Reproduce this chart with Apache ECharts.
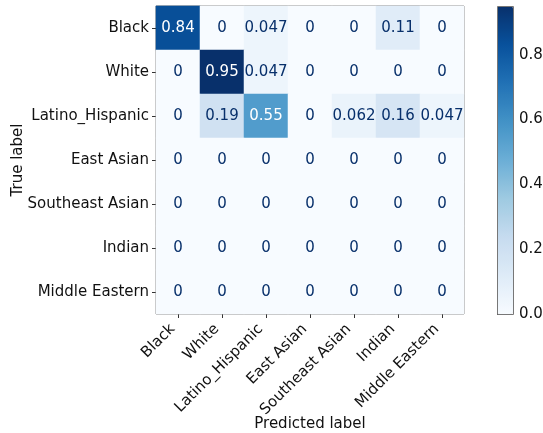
<!DOCTYPE html>
<html>
<head>
<meta charset="utf-8">
<script src="https://cdn.jsdelivr.net/npm/echarts@6/dist/echarts.min.js"></script>
<style>
  html, body { margin: 0; padding: 0; background: #fff; }
  #chart { width: 543px; height: 433px; }
</style>
</head>
<body>
<div id="chart"></div>
<script>
// Class labels (rows = true label, columns = predicted label)
const classes = ['Black', 'White', 'Latino_Hispanic', 'East Asian', 'Southeast Asian', 'Indian', 'Middle Eastern'];

// Row-normalised confusion matrix
const rowBlack      = [0.84, 0, 0.047, 0, 0, 0.11, 0];
const rowWhite      = [0, 0.95, 0.047, 0, 0, 0, 0];
const rowLatino     = [0, 0.19, 0.55, 0, 0.062, 0.16, 0.047];
const rowEastAsian  = [0, 0, 0, 0, 0, 0, 0];
const rowSEAsian    = [0, 0, 0, 0, 0, 0, 0];
const rowIndian     = [0, 0, 0, 0, 0, 0, 0];
const rowMidEastern = [0, 0, 0, 0, 0, 0, 0];

const colorbarTicks = [0, 0.2, 0.4, 0.6, 0.8];

// matplotlib "Blues" colormap
const blues = ['#f7fbff', '#deebf7', '#c6dbef', '#9ecae1', '#6baed6', '#4292c6', '#2171b5', '#08519c', '#08306b'];

const matrix = [rowBlack, rowWhite, rowLatino, rowEastAsian, rowSEAsian, rowIndian, rowMidEastern];
const cells = [];
let vmax = 0, vmin = Infinity;
matrix.forEach((row, r) => row.forEach((v, c) => {
  cells.push([c, r, v]);
  vmax = Math.max(vmax, v);
  vmin = Math.min(vmin, v);
}));
const threshold = (vmax + vmin) / 2;

const FONT = 'DejaVu Sans';
const FS = 15;
const frame = '#777';

const chart = echarts.init(document.getElementById('chart'), null, { renderer: 'canvas' });
chart.setOption({
  animation: false,
  backgroundColor: '#fff',
  textStyle: { fontFamily: FONT },
  grid: [
    { left: 156, top: 6, width: 308, height: 308, show: true, borderColor: frame, borderWidth: 1,
      backgroundColor: 'transparent', containLabel: false, outerBoundsMode: 'none' },
    { left: 497, top: 6, width: 16, height: 308, show: false, containLabel: false, outerBoundsMode: 'none' }
  ],
  xAxis: [
    {
      gridIndex: 0, type: 'category', data: classes, position: 'bottom',
      axisLine: { show: false },
      axisTick: { show: true, alignWithLabel: true, length: 4, lineStyle: { color: '#333' } },
      axisLabel: { rotate: 45, fontSize: FS, color: '#111', fontFamily: FONT, margin: 18,
                   align: 'right', verticalAlign: 'bottom', interval: 0 },
      splitLine: { show: false },
      name: 'Predicted label', nameLocation: 'middle', nameGap: 103, nameMoveOverlap: false,
      nameTextStyle: { fontSize: FS, color: '#111', fontFamily: FONT }
    },
    { gridIndex: 1, type: 'value', show: false, min: 0, max: 1 }
  ],
  yAxis: [
    {
      gridIndex: 0, type: 'category', data: classes, inverse: true,
      axisLine: { show: false },
      axisTick: { show: true, alignWithLabel: true, length: 4, lineStyle: { color: '#333' } },
      axisLabel: { fontSize: FS, color: '#111', fontFamily: FONT, margin: 7, interval: 0 },
      splitLine: { show: false },
      name: 'True label', nameLocation: 'middle', nameGap: 130, nameRotate: 90, nameMoveOverlap: false,
      nameTextStyle: { fontSize: FS, color: '#111', fontFamily: FONT }
    },
    {
      gridIndex: 1, type: 'value', min: 0, max: vmax, position: 'right',
      axisLine: { show: false },
      axisTick: { show: true, length: 4, lineStyle: { color: '#333' }, customValues: colorbarTicks },
      axisLabel: { fontSize: FS, color: '#111', fontFamily: FONT, margin: 6,
                   customValues: colorbarTicks, formatter: v => v.toFixed(1) },
      splitLine: { show: false }
    }
  ],
  visualMap: [{
    type: 'continuous', seriesIndex: 0, min: 0, max: vmax,
    inRange: { color: blues },
    show: true, calculable: false, orient: 'vertical',
    left: 497, top: 6, itemWidth: 16, itemHeight: 308, padding: 0,
    text: null, showLabel: false, hoverLink: false,
    borderColor: frame, borderWidth: 0
  }],
  graphic: [],
  series: [
    {
      type: 'heatmap', xAxisIndex: 0, yAxisIndex: 0,
      // White text on dark cells, dark-blue text on light cells
      data: cells.map(d => ({
        value: d,
        label: { color: d[2] > threshold ? '#ffffff' : '#08306b' }
      })),
      label: {
        show: true, fontSize: FS, fontFamily: FONT,
        formatter: p => String(p.value[2])
      },
      itemStyle: { borderWidth: 0 },
      emphasis: { disabled: true }
    },
    {
      type: 'scatter', xAxisIndex: 1, yAxisIndex: 1, data: [], silent: true
    }
  ]
});

// Outline of the colour bar, drawn from the colour-bar axis extent
const p0 = chart.convertToPixel({ xAxisIndex: 1, yAxisIndex: 1 }, [0, 0]);
const p1 = chart.convertToPixel({ xAxisIndex: 1, yAxisIndex: 1 }, [1, vmax]);
chart.setOption({
  graphic: [{
    type: 'rect', silent: true, z: 100,
    shape: { x: Math.min(p0[0], p1[0]) + 0.5, y: Math.min(p0[1], p1[1]) + 0.5,
             width: Math.abs(p1[0] - p0[0]), height: Math.abs(p1[1] - p0[1]) },
    style: { fill: 'none', stroke: frame, lineWidth: 1 }
  }]
});
</script>
</body>
</html>
